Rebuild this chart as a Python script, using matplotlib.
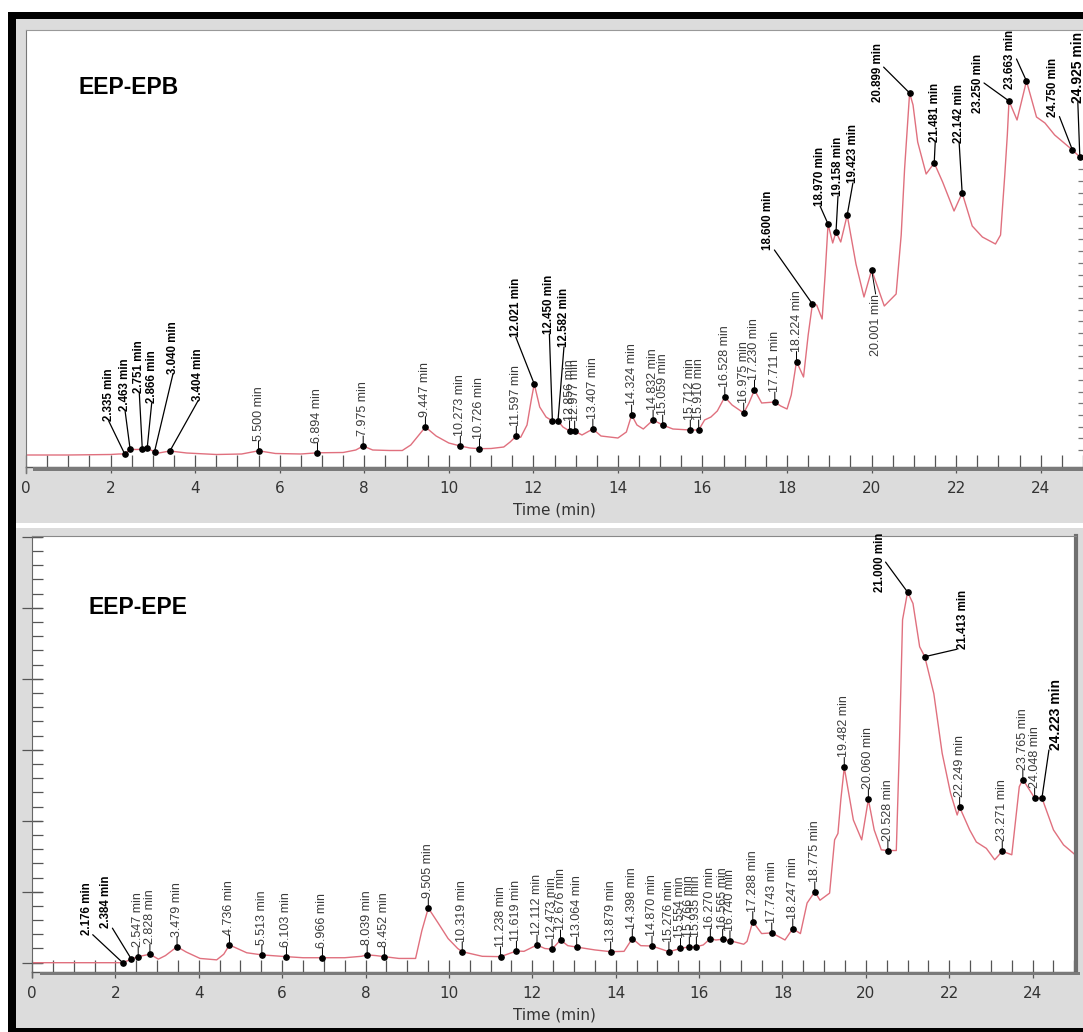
import numpy as np
import matplotlib
matplotlib.use("Agg")
import matplotlib.pyplot as plt
from matplotlib.patches import Rectangle
from matplotlib.lines import Line2D

W, H = 1083, 1032

# ---- EEP-EPB chromatogram -------------------------------------------------
epb_peak_t = [2.335, 2.463, 2.751, 2.866, 3.040, 3.404, 5.500, 6.894, 7.975,
              9.447, 10.273, 10.726, 11.597, 12.021, 12.450, 12.582, 12.856,
              12.977, 13.407, 14.324, 14.832, 15.059, 15.712, 15.910, 16.528,
              16.975, 17.230, 17.711, 18.224, 18.600, 18.970, 19.158, 19.423,
              20.001, 20.899, 21.481, 22.142, 23.250, 23.663, 24.750, 24.925]
epb_peak_y = [0.1, 0.57, 0.57, 0.67, 0.33, 0.4, 0.42, 0.22, 0.9,
              2.8, 0.9, 0.63, 1.9, 7.1, 3.4, 3.4, 2.4,
              2.4, 2.6, 4.0, 3.5, 3.0, 2.5, 2.5, 5.8,
              4.2, 6.5, 5.3, 9.35, 15.1, 23.1, 22.3, 24.0,
              18.5, 36.2, 29.2, 26.2, 35.4, 37.4, 30.5, 29.8]
# signal between the labelled peaks (time, signal)
epb_trace = [(0.0, 0.0), (1.0, 0.0), (2.0, 0.05), (2.2, 0.1), (2.6, 0.55),
             (2.95, 0.5), (3.1, 0.17), (3.8, 0.2), (4.5, 0.05), (5.1, 0.1),
             (5.9, 0.15), (6.5, 0.1), (7.5, 0.25), (7.8, 0.5), (8.2, 0.5),
             (8.6, 0.45), (8.9, 0.45), (9.1, 1.0), (9.7, 1.9), (10.0, 1.2),
             (10.5, 0.7), (11.0, 0.65), (11.3, 0.8), (11.45, 1.3), (11.7, 1.77),
             (11.85, 3.0), (11.95, 5.5), (12.15, 4.8), (12.3, 3.8), (12.7, 2.8),
             (13.15, 2.0), (13.6, 1.9), (14.0, 1.7), (14.2, 2.3), (14.45, 3.0),
             (14.6, 2.6), (15.3, 2.6), (16.05, 3.5), (16.2, 3.8), (16.35, 4.4),
             (16.7, 5.0), (17.1, 5.2), (17.4, 5.2), (17.85, 4.9), (18.0, 4.6),
             (18.1, 6.0), (18.39, 7.8), (18.5, 12.0), (18.7, 15.0), (18.83, 13.6),
             (18.9, 18.0), (19.08, 21.2), (19.27, 21.3), (19.63, 19.1),
             (19.82, 15.8), (20.3, 14.9), (20.58, 16.1), (20.7, 22.0),
             (20.78, 28.6), (20.98, 35.0), (21.09, 31.3), (21.29, 28.1),
             (21.68, 27.3), (21.95, 24.4), (22.38, 22.9), (22.62, 21.8),
             (22.93, 21.1), (23.05, 22.0), (23.15, 28.0), (23.21, 32.0),
             (23.44, 33.5), (23.9, 33.8), (24.1, 33.2), (24.33, 32.0)]
epb_bold = {2.335, 2.463, 2.751, 2.866, 3.040, 3.404, 12.021, 12.450, 12.582,
            18.600, 18.970, 19.158, 19.423, 20.899, 21.481, 22.142, 23.250,
            23.663, 24.750}
epb_big = {24.925}
# label placement: (dx px, dy px, vertical anchor, leader start on text box)
epb_offsets = {
    2.335: (-16, 33, 'bottom', (0.5, 0)), 2.463: (-5, 38, 'bottom', (0.5, 0)),
    2.751: (-3, 56, 'bottom', (0.5, 0)), 2.866: (4.5, 45, 'bottom', (0.5, 0)),
    3.040: (18.5, 78, 'bottom', (0.5, 0)), 3.404: (28, 50, 'bottom', (0.5, 0)),
    12.021: (-18.5, 47, 'bottom', (0.5, 0)), 12.450: (-3, 87, 'bottom', (0.5, 0)),
    12.582: (6, 74, 'bottom', (0.5, 0)), 18.600: (-44, 54, 'bottom', (1, 0)),
    18.970: (-8, 18, 'bottom', (0.5, 0)), 19.158: (2, 36, 'bottom', (0.5, 0)),
    19.423: (5.7, 32, 'bottom', (0.5, 0)), 20.001: (4, -24, 'top', (0.5, 1)),
    20.899: (-32, 20, 'center', (1, 0.6)), 21.481: (1, 21, 'bottom', (0.5, 0)),
    22.142: (-3, 50, 'bottom', (0.5, 0)), 23.250: (-31, 18, 'center', (1, 0.5)),
    23.663: (-16, 22, 'center', (1, 0.5)), 24.750: (-19, 63, 'center', (1, 0)),
    24.925: (-2, 90, 'center', (0.5, 0)),
}

# ---- EEP-EPE chromatogram -------------------------------------------------
epe_peak_t = [2.176, 2.384, 2.547, 2.828, 3.479, 4.736, 5.513, 6.103, 6.966,
              8.039, 8.452, 9.505, 10.319, 11.238, 11.619, 12.112, 12.473,
              12.676, 13.064, 13.879, 14.398, 14.870, 15.276, 15.554, 15.766,
              15.935, 16.270, 16.565, 16.740, 17.288, 17.743, 18.247, 18.775,
              19.482, 20.060, 20.528, 21.000, 21.413, 22.249, 23.271, 23.765,
              24.048, 24.223]
epe_peak_y = [0.0, 0.05, 0.085, 0.12, 0.225, 0.25, 0.11, 0.085, 0.07,
              0.11, 0.085, 0.77, 0.155, 0.085, 0.165, 0.25, 0.19,
              0.32, 0.22, 0.155, 0.34, 0.235, 0.155, 0.2, 0.225,
              0.225, 0.34, 0.33, 0.31, 0.58, 0.42, 0.48, 1.0,
              2.75, 2.3, 1.58, 5.22, 4.31, 2.19, 1.57, 2.58,
              2.32, 2.32]
epe_trace = [(0.0, 0.0), (2.0, 0.0), (3.03, 0.05), (3.2, 0.1), (3.7, 0.15),
             (4.03, 0.06), (4.43, 0.04), (4.6, 0.12), (5.15, 0.14), (6.5, 0.07),
             (7.5, 0.07), (7.9, 0.09), (8.25, 0.1), (8.8, 0.06), (9.2, 0.06),
             (9.35, 0.45), (9.74, 0.56), (9.98, 0.34), (10.21, 0.2), (10.8, 0.09),
             (11.8, 0.16), (12.3, 0.2), (12.85, 0.24), (13.5, 0.18), (14.2, 0.16),
             (14.6, 0.24), (15.1, 0.19), (16.1, 0.25), (16.4, 0.32), (17.07, 0.26),
             (17.15, 0.3), (17.5, 0.41), (18.06, 0.32), (18.43, 0.41),
             (18.59, 0.84), (18.9, 0.88), (19.13, 0.98), (19.25, 1.73),
             (19.33, 1.82), (19.4, 2.3), (19.57, 2.45), (19.7, 2.01), (19.9, 1.73),
             (20.2, 1.87), (20.37, 1.59), (20.73, 1.58), (20.8, 2.95),
             (20.88, 4.83), (21.13, 5.06), (21.29, 4.45), (21.63, 3.79),
             (21.83, 2.95), (22.03, 2.39), (22.19, 2.08), (22.49, 1.87),
             (22.65, 1.7), (22.89, 1.61), (23.09, 1.45), (23.5, 1.52),
             (23.68, 2.48), (24.5, 1.87), (24.74, 1.66), (25.02, 1.52)]
epe_bold = {2.176, 2.384, 21.000, 21.413}
epe_big = {24.223}
epe_offsets = {
    2.176: (-36, 28, 'bottom', (1, 0)), 2.384: (-25, 31, 'bottom', (1, 0)),
    21.000: (-28, 30, 'center', (1, 0.5)), 21.413: (38, 37, 'center', (0, 0)),
    24.223: (14, 48, 'bottom', (0, 0)),
}

TRACE = '#e0707e'
LABEL_FONT = 'Liberation Sans'


def fbox(x0, y0, x1, y1):
    """pixel box (top-left origin) -> figure fraction rect"""
    return [x0 / W, 1 - y1 / H, (x1 - x0) / W, (y1 - y0) / H]


def frect(fig, x0, y0, x1, y1, color, z):
    l, b, w, h = fbox(x0, y0, x1, y1)
    fig.add_artist(Rectangle((l, b), w, h, transform=fig.transFigure,
                             facecolor=color, edgecolor='none', zorder=z))


def fline(fig, x0, y0, x1, y1, color, lw, z=5):
    fig.add_artist(Line2D([x0 / W, x1 / W], [1 - y0 / H, 1 - y1 / H],
                          transform=fig.transFigure, color=color, lw=lw, zorder=z))


def draw_trace(ax, peak_t, peak_y, trace, bold, big, offsets, dy0):
    pts = sorted(list(trace) + list(zip(peak_t, peak_y)))
    t, y = np.array(pts).T
    ax.plot(t, y, color=TRACE, lw=1.0, zorder=2)
    ax.plot(peak_t, peak_y, 'o', color='black', ms=3.8, zorder=4)
    for pt, pv in zip(peak_t, peak_y):
        dx, dy, va, rel = offsets.get(pt, (0, dy0, 'bottom', (0.5, 0)))
        heavy = pt in bold or pt in big
        size = 10 if pt in big else (8.3 if heavy else 9)
        ax.annotate(f"{pt:.3f} min", xy=(pt, pv), xytext=(dx, dy),
                    textcoords='offset pixels', rotation=90, ha='center', va=va,
                    family=LABEL_FONT, fontsize=size,
                    fontweight='bold' if heavy else 'normal',
                    color='black' if heavy else '#3a3a3a',
                    annotation_clip=False, zorder=5,
                    arrowprops=dict(arrowstyle='-', lw=0.9 if heavy else 0.7,
                                    color='black', shrinkA=0, shrinkB=0,
                                    relpos=rel, patchA=None))


def time_axis(ax):
    ax.set_xticks(np.arange(0, 25, 2))
    ax.set_xticks(np.arange(0, 25.5, 0.5), minor=True)
    ax.xaxis.remove_overlapping_locs = False
    ax.tick_params(axis='x', which='minor', direction='in', length=8.4,
                   width=0.9, color='#555555')
    ax.tick_params(axis='x', which='major', direction='out', length=4.3,
                   width=0.9, color='#555555', labelsize=11,
                   labelcolor='#333333', pad=5.5)
    ax.set_xlabel('Time (min)', fontsize=11, color='#333333', labelpad=5)
    ax.spines['bottom'].set_color('#555555')
    ax.spines['bottom'].set_linewidth(1)


fig = plt.figure(figsize=(W / 100, H / 100), dpi=100, facecolor='white')

# frame: black border and grey panels
frect(fig, 16, 19, W, 523, '#dcdcdc', -5)
frect(fig, 16, 528, W, 1028, '#dcdcdc', -5)
frect(fig, 8, 12, 16, H, 'black', 10)
frect(fig, 8, 12, W, 19, 'black', 10)
frect(fig, 8, 1028, W, H, 'black', 10)

# top panel
ax1 = fig.add_axes(fbox(26, 30, W, 467))
ax1.set_xlim(0, 24.89)
ax1.set_ylim(-1.2, 42.5)
draw_trace(ax1, epb_peak_t, epb_peak_y, epb_trace, epb_bold, epb_big, epb_offsets, 10)
time_axis(ax1)
ax1.spines['right'].set_visible(False)
ax1.spines['top'].set_color('#999999')
ax1.spines['left'].set_color('#777777')
ax1.set_yticks([])
ax1.set_yticks(np.arange(0.5, 30.0, 1.17), minor=True)
ax1.tick_params(axis='y', which='minor', left=False, right=True, direction='in',
                length=3.6, width=0.9, color='#777777')
fline(fig, 26, 467, 26, 473, '#777777', 1)
frect(fig, 33, 467, W, 471, '#7a7a7a', 5)
fig.text(79 / W, 1 - 88 / H, 'EEP-EPB', family=LABEL_FONT, fontsize=16.5,
         fontweight='bold', va='center', ha='left')

# bottom panel
ax2 = fig.add_axes(fbox(32, 536, 1076, 972))
ax2.set_xlim(0, 25.04)
ax2.set_ylim(-0.131, 6.01)
draw_trace(ax2, epe_peak_t, epe_peak_y, epe_trace, epe_bold, epe_big, epe_offsets, 10)
time_axis(ax2)
ax2.set_yticks(np.arange(0, 7, 1))
ax2.set_yticks(np.arange(0, 6.01, 0.2), minor=True)
ax2.yaxis.remove_overlapping_locs = False
ax2.tick_params(axis='y', which='major', direction='inout', length=15,
                width=0.9, color='#555555', labelleft=False)
ax2.tick_params(axis='y', which='minor', direction='in', length=7.7,
                width=0.9, color='#555555')
ax2.spines['left'].set_color('#666666')
ax2.spines['top'].set_color('#888888')
ax2.spines['right'].set_color('#6f6f6f')
ax2.spines['right'].set_linewidth(3)
fline(fig, 32, 972, 32, 977, '#666666', 1)
frect(fig, 40, 972, 1080, 975, '#7a7a7a', 5)
fig.text(88 / W, 1 - 607 / H, 'EEP-EPE', family=LABEL_FONT, fontsize=16.5,
         fontweight='bold', va='center', ha='left')

fig.savefig('out.png', dpi=100, facecolor='white')
